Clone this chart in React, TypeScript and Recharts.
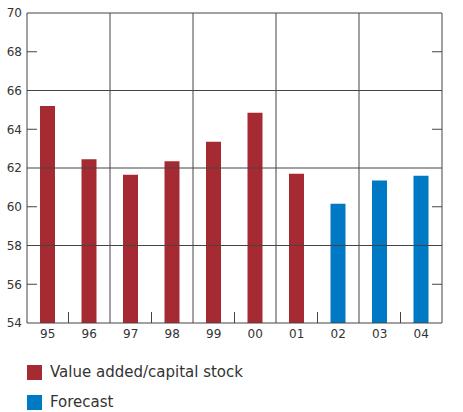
import { BarChart, Bar, XAxis, YAxis, ReferenceLine, Cell } from "recharts";

const years = ["95", "96", "97", "98", "99", "00", "01", "02", "03", "04"];
const ratio = [65.2, 62.45, 61.65, 62.35, 63.35, 64.85, 61.7, 60.15, 61.35, 61.6];
const forecast = [false, false, false, false, false, false, false, true, true, true];

const yTicks = [54, 56, 58, 60, 62, 64, 66, 68, 70];
const gridY = [58, 62, 66];          // full-width lines
const shortY = [56, 60, 64, 68];     // small inward ticks on both axes
const groupX = [2, 4, 6, 8];         // full-height lines between year pairs
const shortX = [1, 3, 5, 7, 9];      // small ticks on the bottom axis

const RED = "#a62a32";
const BLUE = "#0079c4";
const LINE = "#444";
const TEXT = "#333";
const FONT = "'DejaVu Sans', Verdana, sans-serif";

// bars sit in the middle of each year slot on a 0..10 numeric axis
const data = years.map((y, i) => ({ pos: i + 0.5, year: y, value: ratio[i], forecast: forecast[i] }));
const xTicks = data.map((d) => d.pos);

export default function App() {
  const tick = { fill: TEXT, fontSize: 12, fontFamily: FONT };
  return (
    <div style={{ position: "absolute", left: 0, top: 0, width: 463, height: 412, background: "#fff", fontFamily: FONT }}>
      <BarChart
        width={463}
        height={345}
        data={data}
        margin={{ top: 13, right: 0, bottom: 0, left: 0 }}
      >
        <XAxis
          dataKey="pos"
          type="number"
          domain={[0, 10]}
          allowDataOverflow
          ticks={xTicks}
          interval={0}
          tickFormatter={(v: number) => years[Math.floor(v)]}
          tick={tick}
          tickLine={false}
          tickSize={4}
          tickMargin={2}
          axisLine={{ stroke: LINE }}
          height={22}
        />
        <YAxis
          yAxisId="left"
          domain={[54, 70]}
          ticks={yTicks}
          interval={0}
          width={27}
          tick={tick}
          tickLine={false}
          tickSize={3}
          tickMargin={2}
          axisLine={{ stroke: LINE }}
        />
        <YAxis
          yAxisId="right"
          orientation="right"
          domain={[54, 70]}
          ticks={yTicks}
          interval={0}
          width={21}
          tick={{ ...tick, textAnchor: "start" }}
          tickLine={false}
          tickSize={2}
          tickMargin={2}
          axisLine={{ stroke: LINE }}
        />
        <Bar dataKey="value" yAxisId="left" barSize={15} isAnimationActive={false}>
          {data.map((d, i) => (
            <Cell key={i} fill={d.forecast ? BLUE : RED} />
          ))}
        </Bar>
        <ReferenceLine yAxisId="left" y={70} stroke={LINE} />
        {gridY.map((v) => (
          <ReferenceLine key={"gy" + v} yAxisId="left" y={v} stroke={LINE} />
        ))}
        {groupX.map((v) => (
          <ReferenceLine key={"gx" + v} yAxisId="left" x={v} stroke={LINE} />
        ))}
        {shortX.map((v) => (
          <ReferenceLine
            key={"sx" + v}
            yAxisId="left"
            segment={[{ x: v, y: 54 }, { x: v, y: 54.57 }]}
            stroke={LINE}
          />
        ))}
        {shortY.map((v) => (
          <ReferenceLine
            key={"syl" + v}
            yAxisId="left"
            segment={[{ x: 0, y: v }, { x: 0.24, y: v }]}
            stroke={LINE}
          />
        ))}
        {shortY.map((v) => (
          <ReferenceLine
            key={"syr" + v}
            yAxisId="left"
            segment={[{ x: 9.76, y: v }, { x: 10, y: v }]}
            stroke={LINE}
          />
        ))}
      </BarChart>
      <div style={{ position: "absolute", left: 27, top: 363, display: "flex", alignItems: "center", color: TEXT, fontSize: 15 }}>
        <span style={{ width: 15, height: 15, background: RED, marginRight: 8 }} />
        Value added/capital stock
      </div>
      <div style={{ position: "absolute", left: 27, top: 393, display: "flex", alignItems: "center", color: TEXT, fontSize: 15 }}>
        <span style={{ width: 15, height: 15, background: BLUE, marginRight: 8 }} />
        Forecast
      </div>
    </div>
  );
}
